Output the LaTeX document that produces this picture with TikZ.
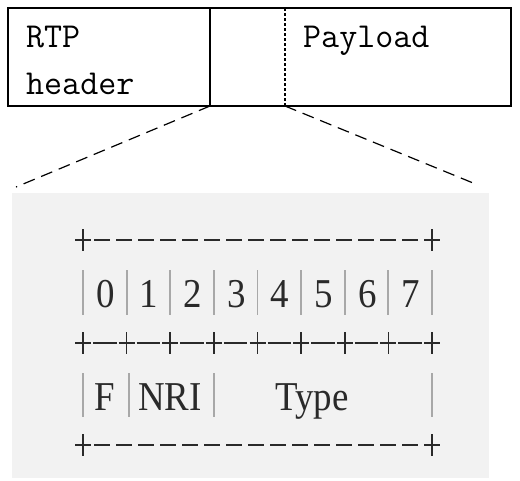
\documentclass[tikz,border=0pt]{standalone}
\usepackage{fontspec}
\newfontfamily\artfont{Liberation Serif}
\definecolor{bggray}{HTML}{F2F2F2}
\definecolor{bargray}{HTML}{A8A8A8}
\definecolor{inkgray}{HTML}{2A2A2A}
\begin{document}
\begin{tikzpicture}[x=1pt,y=-1pt,
  boxtext/.style={anchor=base west,inner sep=0pt,font=\ttfamily\fontsize{35}{35}\selectfont},
  arttext/.style={anchor=base,inner sep=0pt,text=inkgray,xscale=0.9,font=\artfont\fontsize{41}{41}\selectfont},
  zoomline/.style={line width=1.2pt,dash pattern=on 12pt off 7pt},
  plusmark/.style={line width=1.6pt,inkgray},
  barline/.style={line width=1.8pt,bargray},
  dashrule/.style={line width=1.6pt,inkgray}]
\useasboundingbox (0,0) rectangle (520,480);
% background of the enlarged header
\fill[bggray] (12,193) rectangle (489,478);
% top packet box
\draw[line width=1.4pt] (8,8) rectangle (511,106);
\draw[line width=1.4pt] (210,8) -- (210,106);
\draw[line width=1.2pt,dash pattern=on 3pt off 2pt] (285,8) -- (285,106);
\node[boxtext] (rtp) at (26,47) {RTP};
\node[boxtext] (hdr) at (26,94) {header};
\node[boxtext] (pay) at (303,47) {Payload};
% zoom connectors
\coordinate (hl) at (210,106);
\coordinate (hr) at (285,106);
\coordinate (el) at (16,187);
\coordinate (er) at (478,185);
\draw[zoomline] (hl) -- (el);
\draw[zoomline] (hr) -- (er);
% ascii art rules
\foreach \yy in {240,445}{
  \foreach \xx in {83,432}{
    \draw[plusmark] (\xx-8,\yy) -- (\xx+8,\yy) (\xx,\yy-11) -- (\xx,\yy+11);
  }
  \draw[dashrule,dash pattern=on 16pt off 6pt] (94,\yy) -- (424,\yy);
}
\foreach \i in {0,...,8}{
  \pgfmathsetmacro{\xx}{83+43.625*\i}
  \draw[plusmark] (\xx-8,343) -- (\xx+8,343) (\xx,332) -- (\xx,354);
}
\foreach \i in {0,...,7}{
  \pgfmathsetmacro{\xx}{83+43.625*\i}
  \draw[dashrule] (\xx+10,343) -- (\xx+33.6,343);
}
% digits row
\foreach \i in {0,...,8}{
  \pgfmathsetmacro{\xx}{83+43.625*\i}
  \draw[barline] (\xx,270) -- (\xx,315);
}
\foreach \i in {0,...,7}{
  \pgfmathsetmacro{\xx}{105.5+43.625*\i}
  \node[arttext] (d\i) at (\xx,307) {\i};
}
% field row
\foreach \xx in {83,128.6,214.2,432}{
  \draw[barline] (\xx,373) -- (\xx,417);
}
\node[arttext] (f) at (105,410) {F};
\node[arttext] (nri) at (170,410) {NRI};
\node[arttext] (type) at (312,410) {Type};
\end{tikzpicture}
\end{document}
